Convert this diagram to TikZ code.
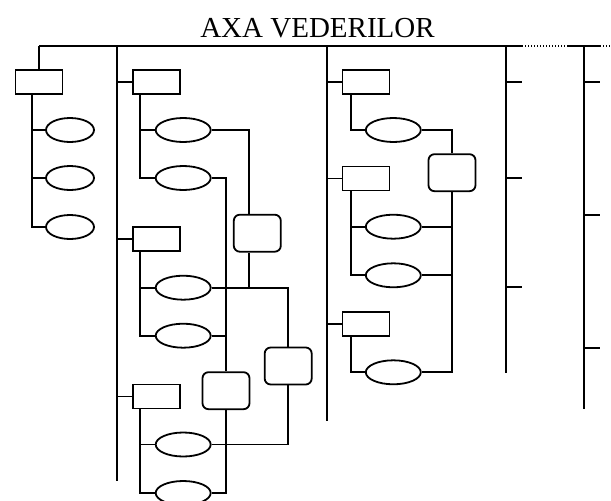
\documentclass[tikz,border=0pt]{standalone}
\usepackage{fontspec}
\setmainfont{Liberation Serif}
\usetikzlibrary{shapes.geometric}
\begin{document}
\begin{tikzpicture}[x=1pt,y=-1pt, line width=1.8pt,
  box/.style={draw, rectangle, minimum width=47pt, minimum height=24pt, inner sep=0pt},
  ell/.style={draw, ellipse, minimum width=55pt, minimum height=24pt, inner sep=0pt},
  sell/.style={ell, minimum width=48pt},
  rbox/.style={draw, rectangle, rounded corners=6pt, minimum width=47pt, minimum height=37pt, inner sep=0pt},
  dotwire/.style={dash pattern=on 1.4pt off 1.6pt}]
\useasboundingbox (0,0) rectangle (611,501);
\node[font=\fontsize{29}{35}\selectfont, anchor=base, inner sep=0pt] (title) at (317.5,37.3) {AXA VEDERILOR};

% axis
\coordinate (top0) at (39,46);
\coordinate (s1) at (522,46);
\coordinate (s2) at (568,46);
\coordinate (s3) at (600,46);
\coordinate (s4) at (611,46);
\draw (top0) -- (s1);
\draw[dotwire] (s1) -- (s2);
\draw (s2) -- (s3);
\draw[dotwire] (s3) -- (s4);

% trunks
\coordinate (T2a) at (117,46);   \coordinate (T2b) at (117,481);
\coordinate (T3a) at (327.3,46); \coordinate (T3b) at (327.3,421);
\coordinate (T4a) at (506,46);   \coordinate (T4b) at (506,372.7);
\coordinate (T5a) at (584,46);   \coordinate (T5b) at (584,409.3);
\draw (T2a) -- (T2b);
\draw (T3a) -- (T3b);
\draw (T4a) -- (T4b);
\draw (T5a) -- (T5b);

% column 1
\node[box] (b1) at (39,82) {};
\node[sell] (e11) at (70,130) {};
\node[sell] (e12) at (70,178) {};
\node[sell] (e13) at (70,227) {};
\coordinate (x1) at (31.7,0);
\draw (top0) -- (b1.north);
\draw (b1.south -| x1) |- (e13.west);
\draw (e11.west) -- (e11.west -| x1);
\draw (e12.west) -- (e12.west -| x1);

% column 2
\node[box] (b2) at (156.3,82) {};
\node[box] (b3) at (156.3,239.2) {};
\node[box] (b4) at (156.3,396.5) {};
\draw (b2.west) -- (b2.west -| T2a);
\draw (b3.west) -- (b3.west -| T2a);
\draw (b4.west) -- (b4.west -| T2a);
\node[ell] (e21) at (183.2,130) {};
\node[ell] (e22) at (183.2,178) {};
\node[ell] (e31) at (183.2,287.7) {};
\node[ell] (e32) at (183.2,335.7) {};
\node[ell] (e41) at (183.2,444.5) {};
\node[ell] (e42) at (183.2,493) {};
\coordinate (x2) at (140,0);
\draw (b2.south -| x2) |- (e22.west);
\draw (e21.west) -- (e21.west -| x2);
\draw (b3.south -| x2) |- (e32.west);
\draw (e31.west) -- (e31.west -| x2);
\draw (b4.south -| x2) |- (e42.west);
\draw (e41.west) -- (e41.west -| x2);
\node[rbox] (rA) at (257.3,233.2) {};
\node[rbox] (rB) at (288.2,366) {};
\node[rbox] (rC) at (226,390.7) {};
\coordinate (xa) at (249.3,0);
\draw (e21.east) -| (rA.north -| xa);
\draw (rA.south -| xa) -- (e31.east -| xa);
\draw (e31.east) -| (rB.north);
\draw (rB.south) |- (e41.east);
\draw (e22.east) -| (rC.north);
\draw (e32.east) -- (e32.east -| rC.north);
\draw (rC.south) |- (e42.east);

% column 3
\node[box] (b5) at (366,82) {};
\node[box] (b6) at (366,178.5) {};
\node[box] (b7) at (366,323.8) {};
\draw (b5.west) -- (b5.west -| T3a);
\draw (b6.west) -- (b6.west -| T3a);
\draw (b7.west) -- (b7.west -| T3a);
\node[ell] (e51) at (393.3,130) {};
\node[ell] (e61) at (393.3,226.7) {};
\node[ell] (e62) at (393.3,275.3) {};
\node[ell] (e71) at (393.3,372.3) {};
\coordinate (x3) at (350.7,0);
\draw (b5.south -| x3) |- (e51.west);
\draw (b6.south -| x3) |- (e62.west);
\draw (e61.west) -- (e61.west -| x3);
\draw (b7.south -| x3) |- (e71.west);
\node[rbox] (rD) at (452,172.7) {};
\draw (e51.east) -| (rD.north);
\draw (rD.south) |- (e71.east);
\draw (e61.east) -- (e61.east -| rD.south);
\draw (e62.east) -- (e62.east -| rD.south);

% column 4 ticks
\coordinate (k41) at (522,81.7);
\coordinate (k42) at (522,178.3);
\coordinate (k43) at (522,287.3);
\draw (k41 -| T4a) -- (k41);
\draw (k42 -| T4a) -- (k42);
\draw (k43 -| T4a) -- (k43);

% column 5 ticks
\coordinate (k51) at (600,81.7);
\coordinate (k52) at (600,215);
\coordinate (k53) at (600,347.7);
\draw (k51 -| T5a) -- (k51);
\draw (k52 -| T5a) -- (k52);
\draw (k53 -| T5a) -- (k53);
\end{tikzpicture}
\end{document}
